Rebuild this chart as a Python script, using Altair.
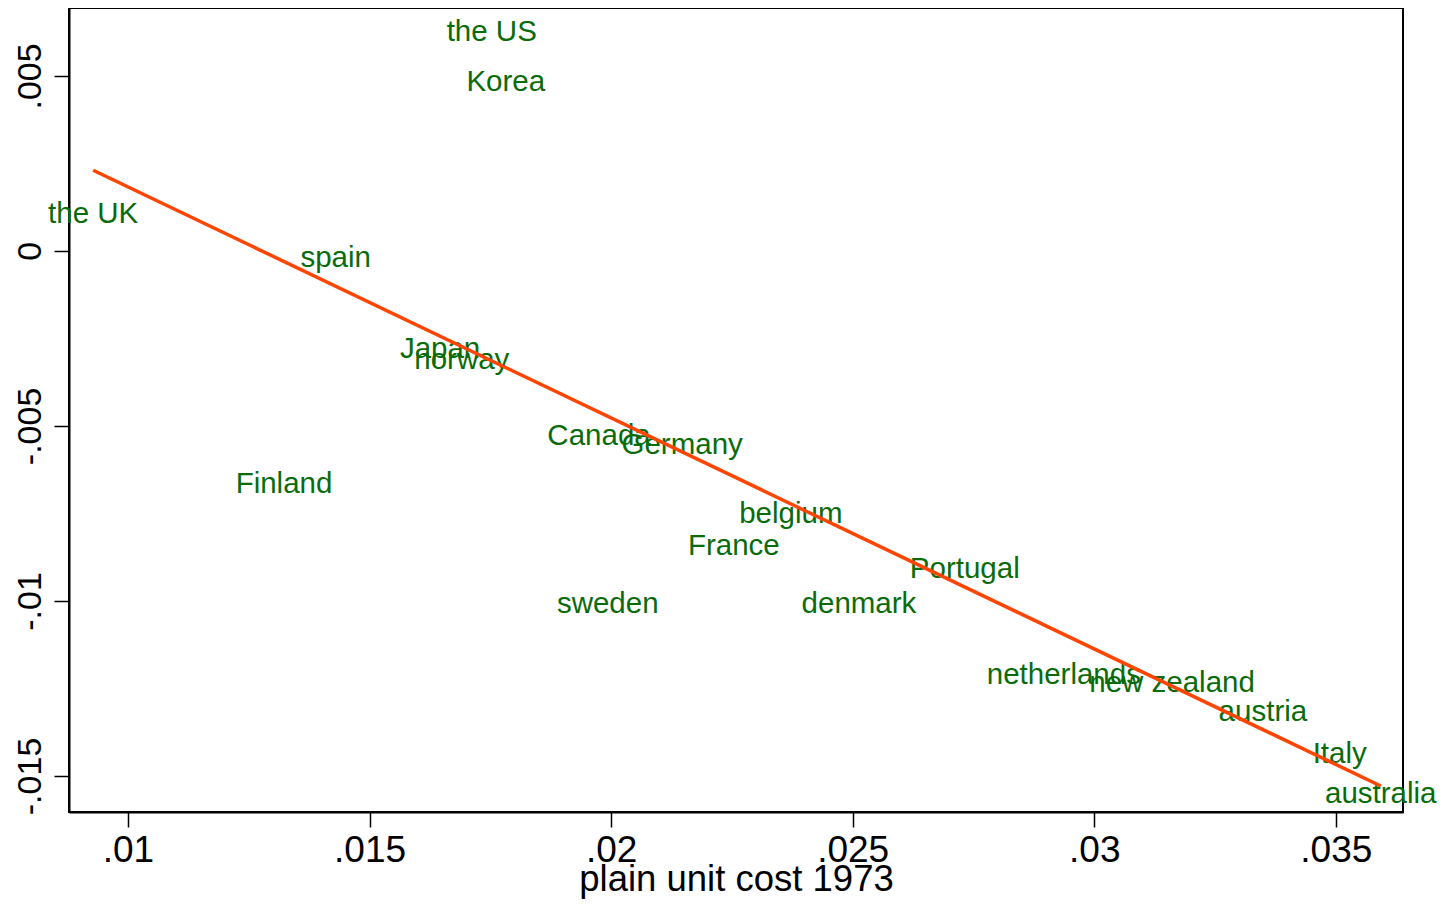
import altair as alt
import pandas as pd

countries = ["the US", "Korea", "the UK", "spain", "Japan", "norway", "Canada",
             "Germany", "Finland", "belgium", "France", "Portugal", "sweden",
             "denmark", "netherlands", "new zealand", "austria", "Italy", "australia"]
unit_cost_1973 = [0.01753, 0.01782, 0.00928, 0.01430, 0.01646, 0.01691, 0.01975,
                  0.02147, 0.01323, 0.02372, 0.02254, 0.02732, 0.01993,
                  0.02513, 0.02937, 0.03161, 0.03349, 0.03508, 0.03593]
growth = [0.006246, 0.00482, 0.001055, -0.0002, -0.002795, -0.003109, -0.005277,
          -0.005533, -0.006646, -0.00753, -0.008443, -0.009099, -0.010097,
          -0.010097, -0.012122, -0.01235, -0.013177, -0.014375, -0.015516]

x_ticks = [0.01, 0.015, 0.02, 0.025, 0.03, 0.035]
y_ticks = [-0.015, -0.01, -0.005, 0, 0.005]

df = pd.DataFrame({"country": countries, "x": unit_cost_1973, "y": growth})

FONT = "Liberation Sans"
label_expr = "replace(toString(datum.value), '0.', '.')"

xenc = alt.X("x:Q",
             scale=alt.Scale(domain=[0.00878, 0.03639], nice=False, zero=False),
             axis=alt.Axis(values=x_ticks, labelExpr=label_expr,
                           title="plain unit cost 1973", titleFontSize=36.5,
                           titleFont=FONT, titleFontWeight="normal",
                           titleY=78, titleBaseline="alphabetic",
                           labelFontSize=37, labelPadding=5))
yenc = alt.Y("y:Q",
             scale=alt.Scale(domain=[-0.01603, 0.00694], nice=False, zero=False),
             axis=alt.Axis(values=y_ticks, labelExpr=label_expr, title=None,
                           labelAngle=-90, labelAlign="center",
                           labelBaseline="alphabetic", labelFontSize=34,
                           labelPadding=14))

labels = alt.Chart(df).mark_text(
    align="center", baseline="middle", font=FONT, fontSize=29.5, color="#0a6b0a"
).encode(x=xenc, y=yenc, text="country:N")

fit = alt.Chart(df).transform_regression("x", "y").mark_line(
    color="#FF4500", strokeWidth=3.5
).encode(x="x:Q", y="y:Q")

chart = alt.layer(labels, fit).properties(
    width=1334, height=804,
    autosize=alt.AutoSizeParams(type="none"),
    padding={"left": 61, "top": 0, "right": 36, "bottom": 87},
).configure_axis(
    grid=False, domainColor="black", domainWidth=2, tickColor="black",
    tickWidth=1.5, tickSize=15, labelColor="black", labelFont=FONT,
    titleColor="black",
).configure_view(stroke="black", strokeWidth=2)

chart.save("out.html", embed_options={"renderer": "svg", "actions": False})
